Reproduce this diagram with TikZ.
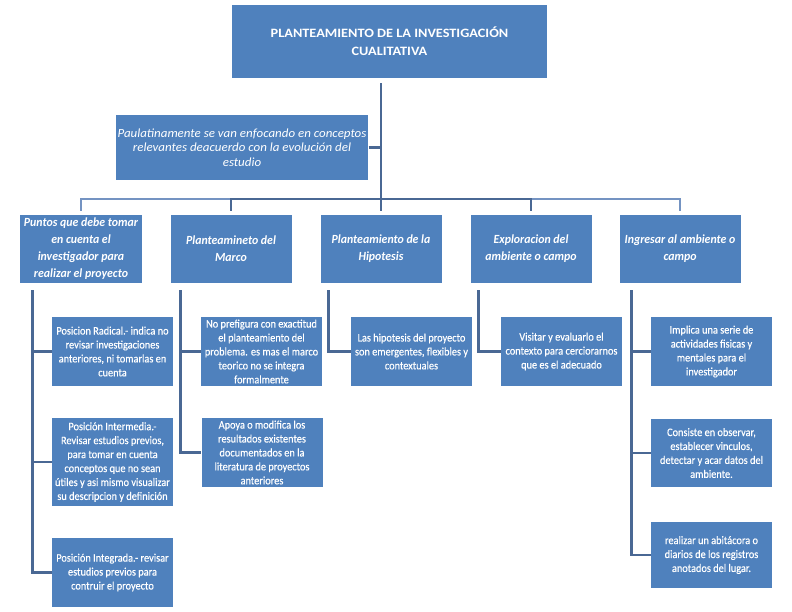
\documentclass[tikz,border=0pt]{standalone}
\usepackage{fontspec}
\setmainfont{Carlito}
\newfontfamily\subfont[FakeStretch=0.9,FakeBold=0.4]{Carlito}
\newfontfamily\topfont[FakeStretch=0.95]{Carlito}
\newfontfamily\paulfont[FakeStretch=1.04]{Carlito}
\newfontfamily\titlefont[FakeStretch=1.12]{Carlito}
\definecolor{boxblue}{HTML}{4F81BD}
\definecolor{linkblue}{HTML}{4A6894}
\definecolor{lightlink}{HTML}{7493C2}
\tikzset{
  bx/.style={draw=none, fill=boxblue, text=white, align=center, inner sep=2bp},
  titlebox/.style={bx, minimum width=315bp, minimum height=73bp, font=\titlefont\fontsize{12.8}{18}\selectfont\bfseries},
  paulbox/.style={bx, minimum width=250bp, minimum height=65bp, font=\paulfont\fontsize{12.5}{14.5}\selectfont\itshape},
  topbox/.style={bx, minimum width=121bp, minimum height=68bp, font=\topfont\fontsize{12.5}{17}\selectfont\bfseries\itshape},
  subbox/.style={bx, minimum width=121bp, font=\subfont\fontsize{11.5}{14}\selectfont},
  link/.style={draw=linkblue, line width=2.6bp},
  lightlinkst/.style={draw=lightlink, line width=2.4bp}
}
\begin{document}
\begin{tikzpicture}[x=1bp,y=-1bp]
\path[fill=white,use as bounding box] (0,0) rectangle (792,612);

\node[titlebox] (title) at (389.5,41.5) {PLANTEAMIENTO DE LA INVESTIGACIÓN\\CUALITATIVA};
\node[paulbox] (paul) at (242,147.5) {Paulatinamente se van enfocando en conceptos\\relevantes deacuerdo con la evolución del\\estudio};

\node[topbox] (p1) at (81,249) {Puntos que debe tomar\\en cuenta el\\investigador para\\realizar el proyecto};
\node[topbox] (p2) at (231,249) {Planteamineto del\\Marco};
\node[topbox] (p3) at (381,249) {Planteamiento de la\\Hipotesis};
\node[topbox] (p4) at (531,249) {Exploracion del\\ambiente o campo};
\node[topbox] (p5) at (680,249) {Ingresar al ambiente o\\campo};

\node[subbox, minimum height=69bp] (r1) at (112.5,351.5) {Posicion Radical.- indica no\\revisar investigaciones\\anteriores, ni tomarlas en\\cuenta};
\node[subbox, minimum height=88bp] (r2) at (112.5,462) {Posición Intermedia.-\\Revisar estudios previos,\\para tomar en cuenta\\conceptos que no sean\\útiles y asi mismo visualizar\\su descripcion y definición};
\node[subbox, minimum height=69bp] (r3) at (112.5,572.5) {Posición Integrada.- revisar\\estudios previos para\\contruir el proyecto};

\node[subbox, minimum height=69bp] (m1) at (261.5,351.5) {No prefigura con exactitud\\el planteamiento del\\problema. es mas el marco\\teorico no se integra\\formalmente};
\node[subbox, minimum height=69bp] (m2) at (262,452.5) {Apoya o modifica los\\resultados existentes\\documentados en la\\literatura de proyectos\\anteriores};

\node[subbox, minimum height=69bp] (h1) at (411.5,351.5) {Las hipotesis del proyecto\\son emergentes, flexibles y\\contextuales};

\node[subbox, minimum height=69bp] (e1) at (561.5,351.5) {Visitar y evaluarlo el\\contexto para cerciorarnos\\que es el adecuado};

\node[subbox, minimum height=69bp] (i1) at (711.5,351.5) {Implica una serie de\\actividades fisicas y\\mentales para el\\investigador};
\node[subbox, minimum height=68bp] (i2) at (711.5,453) {Consiste en observar,\\establecer vinculos,\\detectar y acar datos del\\ambiente.};
\node[subbox, minimum height=66bp] (i3) at (711.5,555) {realizar un abitácora o\\diarios de los registros\\anotados del lugar.};

% trunk and bus
\coordinate (bus) at (381,199);
\draw[link] ([yshift=-5bp]title.south -| bus) -- (bus);
\draw[link] (paul.east) -- (paul.east -| bus);
\draw[lightlinkst] ([yshift=4bp]p1.north) |- (bus);
\draw[lightlinkst] ([yshift=4bp]p5.north) |- (bus);
\draw[link] ([yshift=4bp]p2.north) |- (bus);
\draw[link] ([yshift=4bp]p4.north) |- (bus);
\draw[link] ([yshift=4bp]p3.north) -- (bus);

% column branches
\draw[link] ([xshift=12bp,yshift=-7bp]p1.south west) |- (r1.west);
\draw[link] ([xshift=12bp,yshift=-7bp]p1.south west) |- (r2.west);
\draw[link] ([xshift=12bp,yshift=-7bp]p1.south west) |- (r3.west);
\draw[link] ([xshift=10bp,yshift=-7bp]p2.south west) |- (m1.west);
\draw[link] ([xshift=10bp,yshift=-7bp]p2.south west) |- (m2.west);
\draw[link] ([xshift=8bp,yshift=-7bp]p3.south west) |- (h1.west);
\draw[link] ([xshift=8bp,yshift=-7bp]p4.south west) |- (e1.west);
\draw[link] ([xshift=12bp,yshift=-7bp]p5.south west) |- (i1.west);
\draw[link] ([xshift=12bp,yshift=-7bp]p5.south west) |- (i2.west);
\draw[link] ([xshift=12bp,yshift=-7bp]p5.south west) |- (i3.west);
\end{tikzpicture}
\end{document}
